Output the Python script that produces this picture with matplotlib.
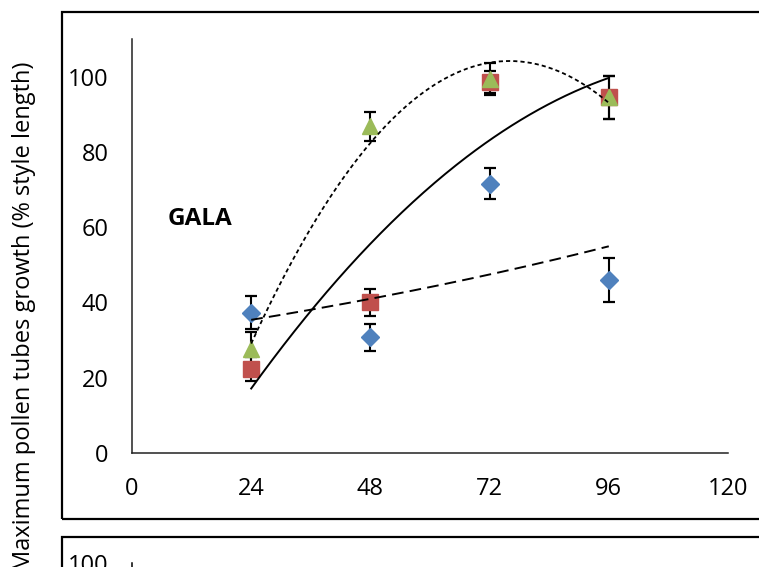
import numpy as np
import matplotlib
matplotlib.use('Agg')
import matplotlib.pyplot as plt
from matplotlib.patches import Rectangle

plt.rcParams['font.family'] = ['Open Sans', 'DejaVu Sans']

# hours after pollination
hours = [24, 48, 72, 96]

# pollen tube growth (% style length), three series
blue_vals = [37.3, 30.8, 71.6, 45.9]
blue_err = [4.3, 3.6, 4.0, 5.9]
red_vals = [22.3, 40.1, 98.6, 94.5]
red_err = [3.2, 3.6, 3.0, 5.8]
green_vals = [27.6, 86.8, 99.3, 94.5]
green_err = [4.5, 3.8, 4.2, 5.8]

x_ticks = [0, 24, 48, 72, 96, 120]
y_ticks = [0, 20, 40, 60, 80, 100]

BLUE = '#4F81BD'
RED = '#C0504D'
GREEN = '#9BBB59'

W, H = 759, 567
fig = plt.figure(figsize=(W / 100, H / 100), dpi=100)

# outer chart frames (second one is the panel below, mostly cut off)
fig.patches.append(Rectangle((62 / W, 1 - 519 / H), 1.1, (519 - 12) / H,
                             transform=fig.transFigure, fill=False,
                             lw=1.6, ec='black', zorder=0))
fig.patches.append(Rectangle((62 / W, -0.5), 1.1, 0.5 + 1 - 537 / H,
                             transform=fig.transFigure, fill=False,
                             lw=1.6, ec='black', zorder=0))

ax = fig.add_axes([132 / W, 1 - 453 / H, (728 - 132) / W, (453 - 39) / H])
ax.set_xlim(0, 120)
ax.set_ylim(0, 110)
ax.set_xticks(x_ticks)
ax.set_yticks(y_ticks)
for s in ['top', 'right']:
    ax.spines[s].set_visible(False)
for s in ['left', 'bottom']:
    ax.spines[s].set_linewidth(1.1)
    ax.spines[s].set_color('#222222')
ax.tick_params(length=0, labelsize=17, pad=17)
ax.patch.set_alpha(0)

x = np.array(hours, dtype=float)
series = [
    (blue_vals, blue_err, 'D', 9.5, BLUE),
    (red_vals, red_err, 's', 11, RED),
    (green_vals, green_err, '^', 11.5, GREEN),
]
for vals, err, mk, ms, col in series:
    ax.errorbar(x, vals, yerr=err, fmt=mk, ms=ms, mfc=col, mec=col,
                ecolor='black', elinewidth=1.5, capsize=4.5, capthick=1.6,
                zorder=3)

# Excel-style trendlines
xs = np.linspace(24, 96, 200)
red_fit = np.polyval(np.polyfit(x, red_vals, 2), xs)
green_fit = np.polyval(np.polyfit(x, green_vals, 2), xs)
bfit = np.polyfit(x, np.log(blue_vals), 1)
blue_fit = np.exp(np.polyval(bfit, xs))

ax.plot(xs, red_fit, color='black', lw=1.4, zorder=5)
ax.plot(xs, blue_fit, color='black', lw=1.4, dashes=(6, 3.2), zorder=5)
ax.plot(xs, green_fit, color='black', lw=1.3, dashes=(2.3, 1.7), zorder=5)

ax.text((168 - 132) / (728 - 132), (453 - 219) / (453 - 39), 'GALA',
        transform=ax.transAxes, fontsize=17.5, fontweight='bold',
        ha='left', va='center')

# lower panel, only its top edge shows
ax2 = fig.add_axes([132 / W, 1 - 563 / H - 0.5, (728 - 132) / W, 0.5])
ax2.set_xlim(0, 120)
ax2.set_ylim(0, 100)
ax2.set_yticks(y_ticks)
ax2.set_xticks([])
for s in ['top', 'right', 'bottom']:
    ax2.spines[s].set_visible(False)
ax2.spines['left'].set_linewidth(1.1)
ax2.tick_params(length=0, labelsize=17, pad=17)
ax2.patch.set_alpha(0)

fig.text(24 / W, 1 - 62 / H, 'Maximum pollen tubes growth (% style length)',
         rotation=90, ha='center', va='top', fontsize=17)

fig.savefig('out.png', dpi=100)
